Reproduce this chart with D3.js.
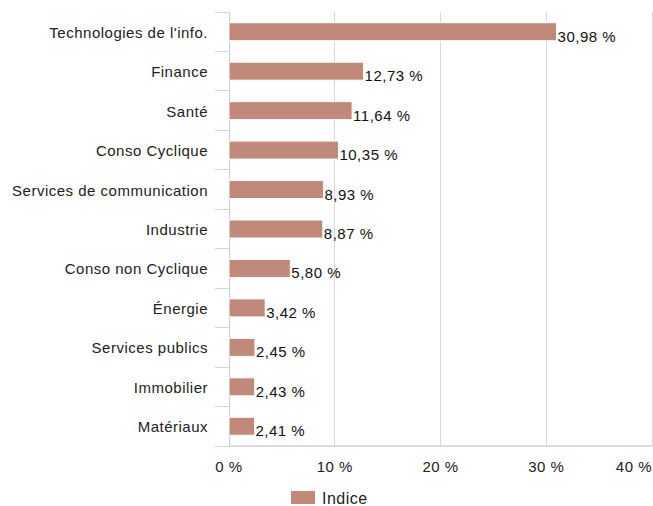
<!DOCTYPE html>
<html><head><meta charset="utf-8">
<script src="https://cdn.jsdelivr.net/npm/d3@7"></script>
<style>body{margin:0;background:#fff}svg{display:block;font-family:"Liberation Sans",Arial,sans-serif}</style>
</head><body><svg id="c" width="653" height="506"></svg>
<script>
const categories = ["Technologies de l'info.","Finance","Santé","Conso Cyclique","Services de communication","Industrie","Conso non Cyclique","Énergie","Services publics","Immobilier","Matériaux"];
const values = [30.98,12.73,11.64,10.35,8.93,8.87,5.80,3.42,2.45,2.43,2.41];
const xTicks = [0,10,20,30,40];
const seriesName = "Indice";

const svg = d3.select("#c");
const m = {left:229, right:652, top:12, bottom:446};
const x = d3.scaleLinear().domain([0,40]).range([m.left,m.right]);
const y = d3.scaleBand().domain(categories).range([m.top,m.bottom]).paddingInner(0).paddingOuter(0);
const fmt = v => d3.format(".2f")(v).replace(".",",") + " %";
const color = "#c0897a";
const ls = "0.5px";

// grid
svg.append("g").selectAll("line").data(xTicks.slice(1)).join("line")
  .attr("x1",d=>x(d)).attr("x2",d=>x(d)).attr("y1",m.top).attr("y2",m.bottom)
  .attr("stroke","#d8d8d8").attr("stroke-width",1).attr("shape-rendering","crispEdges");
// left axis line
svg.append("line").attr("x1",x(0)).attr("x2",x(0)).attr("y1",m.top).attr("y2",m.bottom)
  .attr("stroke","#cccccc").attr("shape-rendering","crispEdges");
// category tick marks at band boundaries
const bounds = categories.map(c=>y(c)).concat([m.bottom]);
svg.append("g").selectAll("line").data(bounds).join("line")
  .attr("x1",m.left-14).attr("x2",m.left).attr("y1",d=>d).attr("y2",d=>d)
  .attr("stroke","#ccd6eb").attr("shape-rendering","crispEdges");
// bottom axis line
svg.append("line").attr("x1",m.left).attr("x2",m.right).attr("y1",m.bottom).attr("y2",m.bottom)
  .attr("stroke","#d0d0d0").attr("stroke-width",1.5);

// bars
const bh = 18;
svg.append("g").selectAll("rect").data(values).join("rect")
  .attr("x",x(0)).attr("y",(d,i)=>y(categories[i])+y.bandwidth()/2-bh/2)
  .attr("width",d=>x(d)-x(0)).attr("height",bh)
  .attr("fill",color).attr("stroke","#fff").attr("stroke-width",1);

// value labels
svg.append("g").selectAll("text").data(values).join("text")
  .attr("x",d=>x(d)+1).attr("y",(d,i)=>y(categories[i])+y.bandwidth()/2+10)
  .attr("font-size",15).attr("letter-spacing",ls).attr("fill","#111").text(fmt);

// category labels
svg.append("g").selectAll("text").data(categories).join("text")
  .attr("x",m.left-21).attr("y",d=>y(d)+y.bandwidth()/2+6)
  .attr("text-anchor","end").attr("font-size",15).attr("letter-spacing",ls).attr("fill","#222").text(d=>d);

// x tick labels
svg.append("g").selectAll("text").data(xTicks).join("text")
  .attr("x",d=>d===40?m.right:x(d)).attr("y",472)
  .attr("text-anchor",d=>d===40?"end":"middle").attr("font-size",15).attr("letter-spacing",ls).attr("fill","#222")
  .text(d=>d+" %");

// legend
svg.append("rect").attr("x",291).attr("y",491).attr("width",24).attr("height",13).attr("fill",color);
svg.append("text").attr("x",322).attr("y",504).attr("font-size",16).attr("letter-spacing",ls).attr("fill","#222").text(seriesName);
</script></body></html>
